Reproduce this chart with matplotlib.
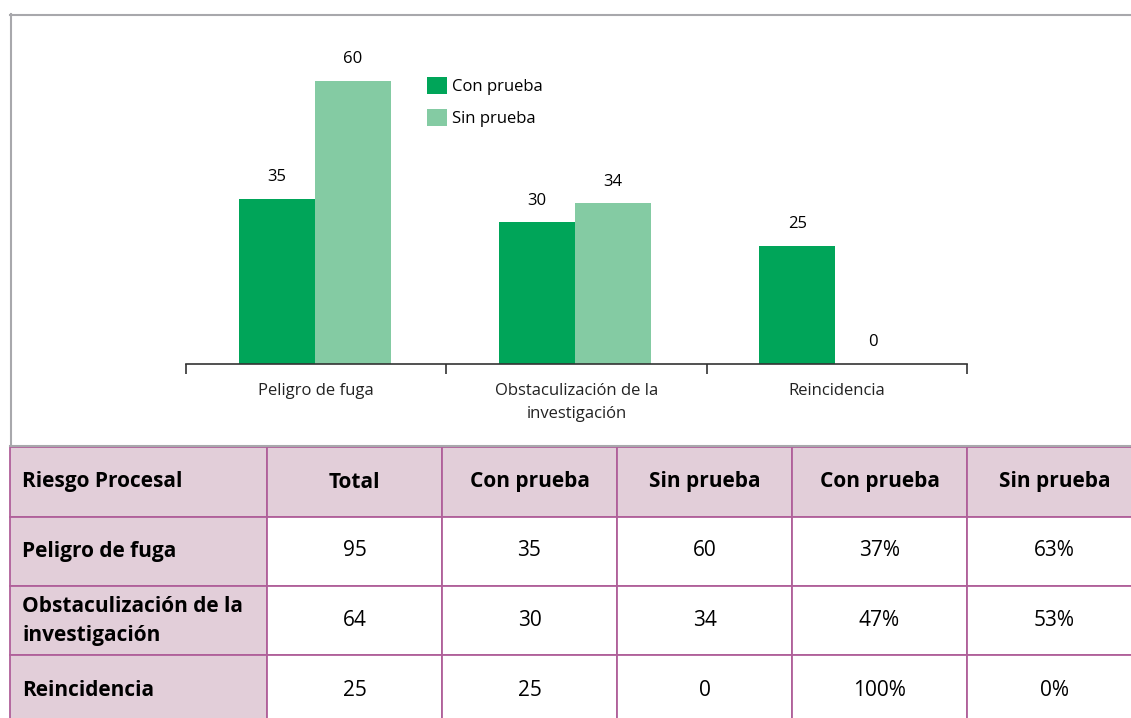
import matplotlib
matplotlib.use("Agg")
import matplotlib.pyplot as plt
from matplotlib.patches import Rectangle
from matplotlib.lines import Line2D
import numpy as np

plt.rcParams["font.family"] = ["Liberation Sans Narrow", "Open Sans", "DejaVu Sans"]

# chart data
categories = ["Peligro de fuga", "Obstaculización de la\ninvestigación", "Reincidencia"]
con_prueba = [35, 30, 25]
sin_prueba = [60, 34, 0]
series_names = ["Con prueba", "Sin prueba"]

# table data
table_header = ["Riesgo Procesal", "Total", "Con prueba", "Sin prueba", "Con prueba", "Sin prueba"]
row_names = ["Peligro de fuga", "Obstaculización de la\ninvestigación", "Reincidencia"]
totals = [95, 64, 25]
pct_con = ["37%", "47%", "100%"]
pct_sin = ["63%", "53%", "0%"]

DARK = "#00A559"
LIGHT = "#84CBA3"
PINK = "#E2CED9"
GRID = "#B0609A"
BOX = "#A8A8AC"

W, H = 1131, 718
fig = plt.figure(figsize=(W / 100, H / 100), dpi=100)

# background axes in pixel coordinates for frame and table
bg = fig.add_axes([0, 0, 1, 1])
bg.set_xlim(0, W)
bg.set_ylim(H, 0)
bg.axis("off")

# chart frame
bg.add_line(Line2D([10, W], [14.5, 14.5], color=BOX, lw=1.5))
bg.add_line(Line2D([10.5, 10.5], [14, 446], color=BOX, lw=1.5))
bg.add_line(Line2D([10, W], [445.5, 445.5], color=BOX, lw=1.5))

# table geometry
col_x = [10, 267, 442, 617, 792, 967, 1142]
row_y = [447, 517, 586, 655, 730]
text_y = [482, 551, 621, 691]

rows = [table_header]
for i, name in enumerate(row_names):
    rows.append([name, str(totals[i]), str(con_prueba[i]), str(sin_prueba[i]), pct_con[i], pct_sin[i]])

for r in range(len(row_y) - 1):
    for c in range(len(col_x) - 1):
        fill = PINK if (r == 0 or c == 0) else "white"
        bg.add_patch(Rectangle((col_x[c], row_y[r]), col_x[c + 1] - col_x[c],
                               row_y[r + 1] - row_y[r], facecolor=fill,
                               edgecolor=GRID, lw=1.3))
        txt = rows[r][c]
        if c == 0:
            bg.text(col_x[c] + 12, text_y[r], txt, ha="left", va="center", fontsize=15,
                    fontweight="bold", linespacing=1.45)
        else:
            bg.text((col_x[c] + col_x[c + 1]) / 2, text_y[r], txt, ha="center", va="center",
                    fontsize=15, fontweight="bold" if r == 0 else "normal")

# bar chart axes, placed in pixel terms
ax_l, ax_r, ax_b, ax_t = 186, 967, 364, 40
ax = fig.add_axes([ax_l / W, 1 - ax_b / H, (ax_r - ax_l) / W, (ax_b - ax_t) / H])
ax.set_facecolor("none")
x = np.arange(len(categories))
bw = 0.292
b1 = ax.bar(x - bw / 2 - 0.006, con_prueba, bw, color=DARK, label=series_names[0])
b2 = ax.bar(x + bw / 2 - 0.006, sin_prueba, bw, color=LIGHT, label=series_names[1])
ax.set_xlim(-0.5, len(categories) - 0.5)
ax.set_ylim(0, 68.6)
for bars in (b1, b2):
    for rect in bars:
        ax.annotate(f"{rect.get_height():g}",
                    (rect.get_x() + rect.get_width() / 2, rect.get_height()),
                    xytext=(0, 15.5), textcoords="offset points",
                    ha="center", va="center", fontsize=12)

for s in ("top", "right", "left"):
    ax.spines[s].set_visible(False)
ax.spines["bottom"].set_color("#333333")
ax.spines["bottom"].set_linewidth(1.2)
ax.set_yticks([])
ax.set_xticks(np.arange(len(categories) + 1) - 0.5)
ax.tick_params(axis="x", length=7, width=1.2, color="#333333", labelbottom=False)
ax.set_xticks(x, minor=True)
ax.set_xticklabels(categories, minor=True, fontsize=12, color="#222222", linespacing=1.55)
ax.tick_params(axis="x", which="minor", length=0, pad=14)

leg = ax.legend(loc="upper left", bbox_to_anchor=((420 - ax_l) / (ax_r - ax_l), (ax_b - 70) / (ax_b - ax_t)),
                frameon=False, fontsize=12, handlelength=1.2, handleheight=1.2,
                handletextpad=0.35, labelspacing=0.85, borderaxespad=0)

fig.savefig("out.png", dpi=100)
